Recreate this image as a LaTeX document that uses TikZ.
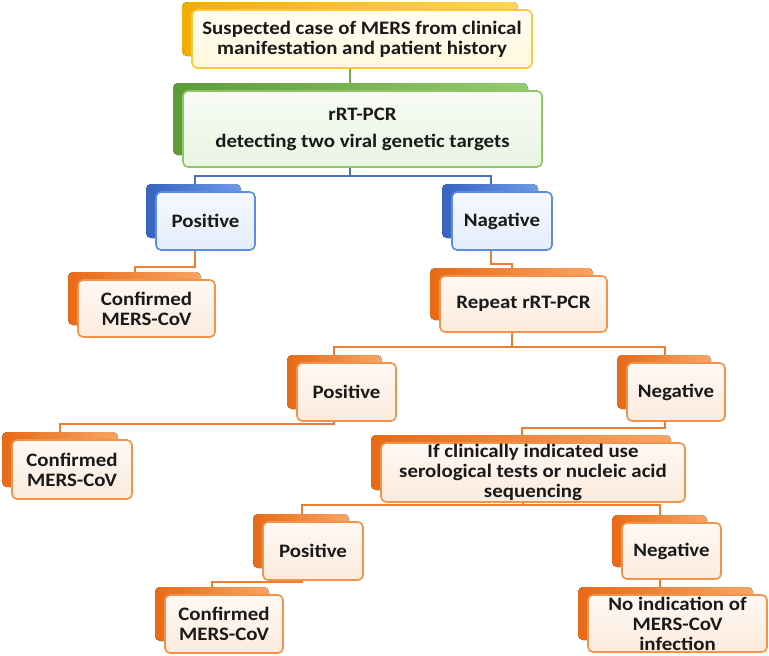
\documentclass[tikz,border=0pt]{standalone}
\usepackage{fontspec}
\setmainfont{Carlito}[FakeStretch=1.1]
\usetikzlibrary{backgrounds}
\definecolor{ydark}{HTML}{F0AE00}\definecolor{ymid}{HTML}{FFD655}\definecolor{yline}{HTML}{FFC83A}\definecolor{yfill}{HTML}{FFF8DC}
\definecolor{gdark}{HTML}{5C9C38}\definecolor{gmid}{HTML}{93CC6C}\definecolor{gline}{HTML}{8CC764}\definecolor{gfill}{HTML}{EAF4E2}
\definecolor{bdark}{HTML}{3763C0}\definecolor{bmid}{HTML}{7099E6}\definecolor{bline}{HTML}{5B8DE6}\definecolor{bfill}{HTML}{E4EDFB}
\definecolor{odark}{HTML}{E86A16}\definecolor{omid}{HTML}{F7A464}\definecolor{oline}{HTML}{F5924A}\definecolor{ofill}{HTML}{FCEBDD}
\definecolor{gconn}{HTML}{70AD47}\definecolor{bconn}{HTML}{4472C4}\definecolor{oconn}{HTML}{ED7D31}
\tikzset{
  frontbox/.style={rounded corners=5pt, line width=1.6pt, inner sep=0pt, outer sep=0pt, align=center,
    text=black!90, font=\bfseries\fontsize{19}{20}\selectfont},
  conn/.style={line width=2pt},
}
\newcommand\mybox[7]{%
  \fill[rounded corners=5pt, left color=#2dark, right color=#2mid] (#3-10,#4-8) rectangle (#5-14,#6-12);
  \node[frontbox, draw=#2line, top color=#2fill!35!white, bottom color=#2fill,
    minimum width={(#5-#3)*1pt}, minimum height={(#6-#4)*1pt}] (#1) at ({(#3+#5)/2},{(#4+#6)/2}) {#7};
}
\begin{document}
\begin{tikzpicture}[x=1pt,y=-1pt]
\useasboundingbox (0,0) rectangle (769,656);
\mybox{top}{y}{192}{10}{532}{68}{Suspected case of MERS from clinical\\manifestation and patient history}
\mybox{rt}{g}{183}{91}{542}{167}{rRT-PCR\\[7pt]detecting two viral genetic targets}
\mybox{pos1}{b}{156}{192}{255}{250}{Positive}
\mybox{neg1}{b}{452}{192}{552}{250}{Nagative}
\mybox{conf1}{o}{78}{280}{215}{337}{Confirmed\\MERS-CoV}
\mybox{rep}{o}{440}{276}{607}{332}{Repeat rRT-PCR}
\mybox{pos2}{o}{297}{363}{396}{421}{Positive}
\mybox{neg2}{o}{627}{363}{725}{421}{Negative}
\mybox{conf2}{o}{12}{440}{132}{499}{Confirmed\\MERS-CoV}
\mybox{ifb}{o}{381}{443}{685}{502}{If clinically indicated use\\serological tests or nucleic acid\\sequencing}
\mybox{pos3}{o}{263}{522}{363}{580}{Positive}
\mybox{neg3}{o}{622}{523}{721}{579}{Negative}
\mybox{conf3}{o}{165}{595}{283}{653}{Confirmed\\MERS-CoV}
\mybox{noind}{o}{588}{595}{767}{652}{No indication of\\MERS-CoV\\infection}
\begin{scope}[on background layer]
\draw[conn, gconn] (350,0 |- top.south) -- (350,0 |- rt.north);
\draw[conn, bconn] (350,0 |- rt.south) -- (350,176) -| (195,0 |- pos1.north);
\draw[conn, bconn] (350,176) -| (491,0 |- neg1.north);
\draw[conn, oconn] (195,0 |- pos1.south) -- (195,267) -| (135,0 |- conf1.north);
\draw[conn, oconn] (491,0 |- neg1.south) -- (491,264) -| (512,0 |- rep.north);
\draw[conn, oconn] (512,0 |- rep.south) -- (512,347) -| (334,0 |- pos2.north);
\draw[conn, oconn] (512,347) -| (665,0 |- neg2.north);
\draw[conn, oconn] (334,0 |- pos2.south) -- (334,424) -| (60,0 |- conf2.north);
\draw[conn, oconn] (665,0 |- neg2.south) -- (665,428) -| (522,0 |- ifb.north);
\draw[conn, oconn] (523,0 |- ifb.south) -- (523,505) -| (302,0 |- pos3.north);
\draw[conn, oconn] (523,505) -| (660,0 |- neg3.north);
\draw[conn, oconn] (302,0 |- pos3.south) -- (302,582) -| (212,0 |- conf3.north);
\draw[conn, oconn] (660,0 |- neg3.south) -- (660,0 |- noind.north);
\end{scope}
\end{tikzpicture}
\end{document}
